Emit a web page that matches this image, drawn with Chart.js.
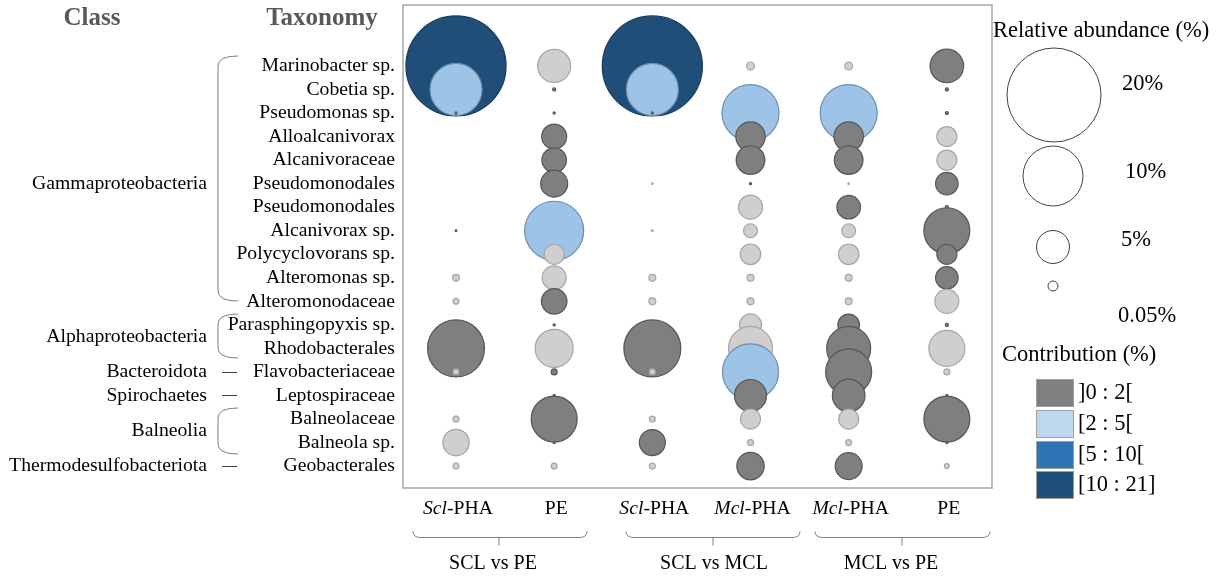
<!DOCTYPE html>
<html>
<head>
<meta charset="utf-8">
<script src="https://cdn.jsdelivr.net/npm/chart.js@4/dist/chart.umd.min.js"></script>
<style>
  html, body { margin: 0; background: #fff; }
</style>
</head>
<body>
<canvas id="chart" width="1221" height="576"></canvas>
<script>
// rows of the bubble plot (top to bottom)
const taxa = [
  "Marinobacter sp.", "Cobetia sp.", "Pseudomonas sp.", "Alloalcanivorax", "Alcanivoraceae",
  "Pseudomonodales", "Pseudomonodales", "Alcanivorax sp.", "Polycyclovorans sp.", "Alteromonas sp.",
  "Alteromonodaceae", "Parasphingopyxis sp.", "Rhodobacterales", "Flavobacteriaceae",
  "Leptospiraceae", "Balneolaceae", "Balneola sp.", "Geobacterales"
];
const classNames = ["Gammaproteobacteria", "Alphaproteobacteria", "Bacteroidota", "Spirochaetes", "Balneolia", "Thermodesulfobacteriota"];
const sampleNames = ["Scl-PHA", "PE", "Scl-PHA", "Mcl-PHA", "Mcl-PHA", "PE"];
const sampleItalic = ["Scl", "", "Scl", "Mcl", "Mcl", ""];
const comparisons = ["SCL vs PE", "SCL vs MCL", "MCL vs PE"];

// relative abundance (%) per column, one value per taxon (null = absent)
const sclPE_scl  = [20.7, 5.6, 0.01, null, null, null, null, 0.006, null, 0.1, 0.074, null, 6.7, 0.074, null, 0.074, 1.45, 0.074];
const sclPE_pe   = [2.25, 0.02, 0.01, 1.29, 1.24, 1.5, 0.02, 7.19, 0.83, 1.19, 1.35, 0.01, 2.98, 0.074, 0.01, 4.37, 0.01, 0.074];
const sclMcl_scl = [20.7, 5.6, 0.01, null, null, 0.006, null, 0.006, null, 0.1, 0.1, null, 6.7, 0.074, null, 0.074, 1.4, 0.074];
const sclMcl_mcl = [0.13, null, 6.71, 1.78, 1.7, 0.01, 1.19, 0.4, 0.87, 0.1, 0.1, 1.0, 4.0, 6.5, 2.12, 0.83, 0.074, 1.55];
const mclPE_mcl  = [0.13, null, 6.71, 1.78, 1.7, 0.006, 1.15, 0.4, 0.87, 0.1, 0.1, 0.96, 4.0, 4.37, 2.2, 0.83, 0.074, 1.5];
const mclPE_pe   = [2.33, 0.02, 0.02, 0.83, 0.83, 1.05, 0.02, 4.37, 0.83, 1.05, 1.19, 0.02, 2.68, 0.074, 0.01, 4.37, 0.01, 0.05];

// contribution class: n = not contributing, g = ]0:2[, b = [2:5[, m = [5:10[, d = [10:21]
const sclPE_sclC  = ["d","b","g",null,null,null,null,"g",null,"n","n",null,"g","n",null,"n","n","n"];
const sclPE_peC   = ["n","g","g","g","g","g","g","b","n","n","g","g","n","g","g","g","g","n"];
const sclMcl_sclC = ["d","b","g",null,null,"n",null,"n",null,"n","n",null,"g","n",null,"n","g","n"];
const sclMcl_mclC = ["n",null,"b","g","g","g","n","n","n","n","n","n","n","b","g","n","n","g"];
const mclPE_mclC  = ["n",null,"b","g","g","n","g","n","n","n","n","g","g","g","g","n","n","g"];
const mclPE_peC   = ["g","g","g","n","n","g","g","g","g","g","n","g","n","n","g","g","g","n"];

const legendSizes = ["20%", "10%", "5%", "0.05%"];
const contribLabels = ["]0 : 2[", "[2 : 5[", "[5 : 10[", "[10 : 21]"];

const columns = [sclPE_scl, sclPE_pe, sclMcl_scl, sclMcl_mcl, mclPE_mcl, mclPE_pe];
const codes = [sclPE_sclC, sclPE_peC, sclMcl_sclC, sclMcl_mclC, mclPE_mclC, mclPE_peC];

const fillOf = { n: "#d0cece", g: "#7f7f7f", b: "#9dc3e6", m: "#2e75b6", d: "#1f4e79" };
const lineOf = { n: "#a6a6a6", g: "#565656", b: "#6a8db2", m: "#245d8f", d: "#173a5b" };
const serif = "'Liberation Serif', 'Times New Roman', serif";

const rFor = v => 11 * Math.sqrt(v);

const points = [], fills = [], lines = [];
columns.forEach((col, ci) => {
  col.forEach((v, ri) => {
    if (v == null) return;
    points.push({ x: ci + 1, y: ri, r: rFor(v) });
    fills.push(fillOf[codes[ci][ri]]);
    lines.push(lineOf[codes[ci][ri]]);
  });
});

function leftBrace(ctx, x, y0, y1) {
  ctx.beginPath();
  ctx.moveTo(x + 20, y0);
  ctx.quadraticCurveTo(x, y0, x, y0 + 10);
  ctx.lineTo(x, y1 - 10);
  ctx.quadraticCurveTo(x, y1, x + 20, y1);
  ctx.stroke();
}

function bottomBrace(ctx, x0, x1, xm, y) {
  ctx.beginPath();
  ctx.moveTo(x0, y - 6);
  ctx.quadraticCurveTo(x0, y, x0 + 8, y);
  ctx.lineTo(x1 - 8, y);
  ctx.quadraticCurveTo(x1, y, x1, y - 6);
  ctx.moveTo(xm, y);
  ctx.lineTo(xm, y + 8);
  ctx.stroke();
}

const extras = {
  id: "extras",
  afterDraw(chart) {
    const ctx = chart.ctx;
    const a = chart.chartArea;
    const xs = chart.scales.x, ys = chart.scales.y;
    ctx.save();

    // plot frame
    ctx.strokeStyle = "#a6a6a6";
    ctx.lineWidth = 1.5;
    ctx.strokeRect(a.left, a.top, a.right - a.left, a.bottom - a.top);

    // headers
    ctx.fillStyle = "#595959";
    ctx.font = "bold 25px " + serif;
    ctx.textAlign = "center";
    ctx.textBaseline = "middle";
    ctx.fillText("Class", 92, 19);
    ctx.fillText("Taxonomy", 322, 19);

    // class labels
    ctx.fillStyle = "#000";
    ctx.font = "19.7px " + serif;
    ctx.textAlign = "right";
    const classRows = [5, 11.5, 13, 14, 15.5, 17];
    classNames.forEach((c, i) => ctx.fillText(c, 207, ys.getPixelForValue(classRows[i])));

    ctx.strokeStyle = "#7f7f7f";
    ctx.lineWidth = 1;
    leftBrace(ctx, 218, 56, 301);
    leftBrace(ctx, 218, 314, 358);
    leftBrace(ctx, 218, 408, 454);
    ctx.strokeStyle = "#404040";
    [13, 14, 17].forEach(r => {
      const y = Math.round(ys.getPixelForValue(r)) + 0.5;
      ctx.beginPath(); ctx.moveTo(222, y); ctx.lineTo(237, y); ctx.stroke();
    });

    // sample labels under the plot
    ctx.fillStyle = "#000";
    ctx.textAlign = "left";
    sampleNames.forEach((name, i) => {
      const it = sampleItalic[i];
      const rest = name.slice(it.length);
      ctx.font = "italic 19.7px " + serif;
      const w1 = ctx.measureText(it).width;
      ctx.font = "19.7px " + serif;
      const w2 = ctx.measureText(rest).width;
      const cx = xs.getPixelForValue(i + 1) + 2;
      let x = cx - (w1 + w2) / 2;
      ctx.font = "italic 19.7px " + serif;
      ctx.fillText(it, x, 509);
      ctx.font = "19.7px " + serif;
      ctx.fillText(rest, x + w1, 509);
    });

    // comparison brackets
    ctx.strokeStyle = "#7f7f7f";
    ctx.lineWidth = 1;
    bottomBrace(ctx, 413, 587, 499, 537.5);
    bottomBrace(ctx, 626, 800, 713, 537.5);
    bottomBrace(ctx, 815, 990, 902, 537.5);
    ctx.font = "20px " + serif;
    ctx.textAlign = "center";
    [493, 714, 891].forEach((x, i) => ctx.fillText(comparisons[i], x, 564));

    // abundance legend
    ctx.textAlign = "left";
    ctx.font = "22.5px " + serif;
    ctx.fillText("Relative abundance (%)", 993, 31);
    const circ = [[1054, 95, 47], [1053, 176, 30], [1053, 247, 16.5], [1053, 286, 5]];
    const labPos = [[1122, 84], [1125, 172], [1121, 240], [1118, 316]];
    ctx.strokeStyle = "#404040";
    ctx.lineWidth = 1;
    circ.forEach(([x, y, r], i) => {
      ctx.beginPath(); ctx.arc(x, y, r, 0, Math.PI * 2); ctx.stroke();
      ctx.fillText(legendSizes[i], labPos[i][0], labPos[i][1]);
    });

    // contribution legend
    ctx.fillText("Contribution (%)", 1002, 355);
    const sw = ["#7f7f7f", "#bdd7ee", "#2e75b6", "#1f4e79"];
    const swY = [379, 410, 441, 471];
    ctx.strokeStyle = "#a0a0a0";
    sw.forEach((c, i) => {
      ctx.fillStyle = c;
      ctx.fillRect(1036, swY[i], 37, 27);
      ctx.strokeRect(1036.5, swY[i] + 0.5, 37, 27);
      ctx.fillStyle = "#000";
      ctx.fillText(contribLabels[i], 1078, swY[i] + 14);
    });

    ctx.restore();
  }
};

new Chart(document.getElementById("chart"), {
  type: "bubble",
  data: {
    datasets: [{
      data: points,
      backgroundColor: fills,
      borderColor: lines,
      borderWidth: 1.2
    }]
  },
  options: {
    responsive: false,
    animation: false,
    events: [],
    layout: { autoPadding: false, padding: { left: 203, right: 229, top: 5, bottom: 88 } },
    plugins: { legend: { display: false }, tooltip: { enabled: false } },
    scales: {
      x: { type: "linear", min: 0.46, max: 6.46, display: false },
      y: {
        type: "linear", reverse: true, min: -2.59, max: 17.93,
        grid: { display: false, drawTicks: false },
        border: { display: false },
        ticks: {
          stepSize: 1, autoSkip: false, includeBounds: false, padding: 8,
          color: "#000", font: { family: serif, size: 19.7 },
          callback: v => (Number.isInteger(v) && taxa[v] !== undefined) ? taxa[v] : null
        },
        afterFit(s) { s.width = 200; s.paddingTop = 0; s.paddingBottom = 0; }
      }
    }
  },
  plugins: [extras]
});
</script>
</body>
</html>
